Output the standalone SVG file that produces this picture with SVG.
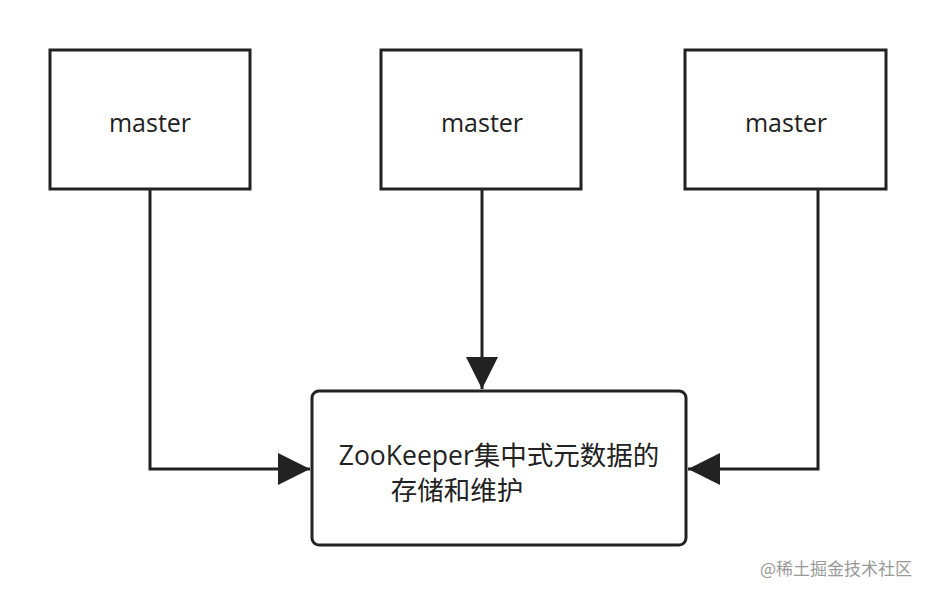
<svg xmlns="http://www.w3.org/2000/svg" width="936" height="596" viewBox="0 0 936 596">
<style>
.box{fill:#fff;stroke:#222;stroke-width:3}
.t{font-family:"Open Sans","Noto Sans CJK SC",sans-serif;font-size:25px;fill:#222;text-anchor:middle}
.c{fill:none;stroke:#222;stroke-width:3}
</style>
<defs>
<marker id="b" viewBox="0 0 10 10" refX="10" refY="5" markerWidth="32" markerHeight="34" orient="auto" markerUnits="userSpaceOnUse"><path d="M0,0 L10,5 L0,10 Z" fill="#222"/></marker></defs>
<rect width="936" height="596" fill="#fff"/>
<g id="m1"><rect class="box" x="50" y="50" width="200" height="139"/><text class="t" x="150" y="132">master</text></g>
<g id="m2"><rect class="box" x="381" y="50" width="200" height="139"/><text class="t" x="482" y="132">master</text></g>
<g id="m3"><rect class="box" x="685" y="50" width="201" height="139"/><text class="t" x="786" y="132">master</text></g>
<g id="zk"><rect class="box" x="312" y="391" width="374" height="154" rx="7"/><text class="t" x="499" y="465" style="font-size:26.5px">ZooKeeper集中式元数据的</text><text class="t" x="457" y="500" style="font-size:26.5px">存储和维护</text></g>
<g id="connectors">
<path class="c" d="M150,189 V469 H310" marker-end="url(#b)"/>
<path class="c" d="M482,189 V389" marker-end="url(#b)"/>
<path class="c" d="M818,189 V469 H688" marker-end="url(#b)"/>
</g>
<text x="836" y="575" style="font-family:'Noto Sans CJK SC',sans-serif;font-size:17px;fill:#999;text-anchor:middle">@稀土掘金技术社区</text>
</svg>
